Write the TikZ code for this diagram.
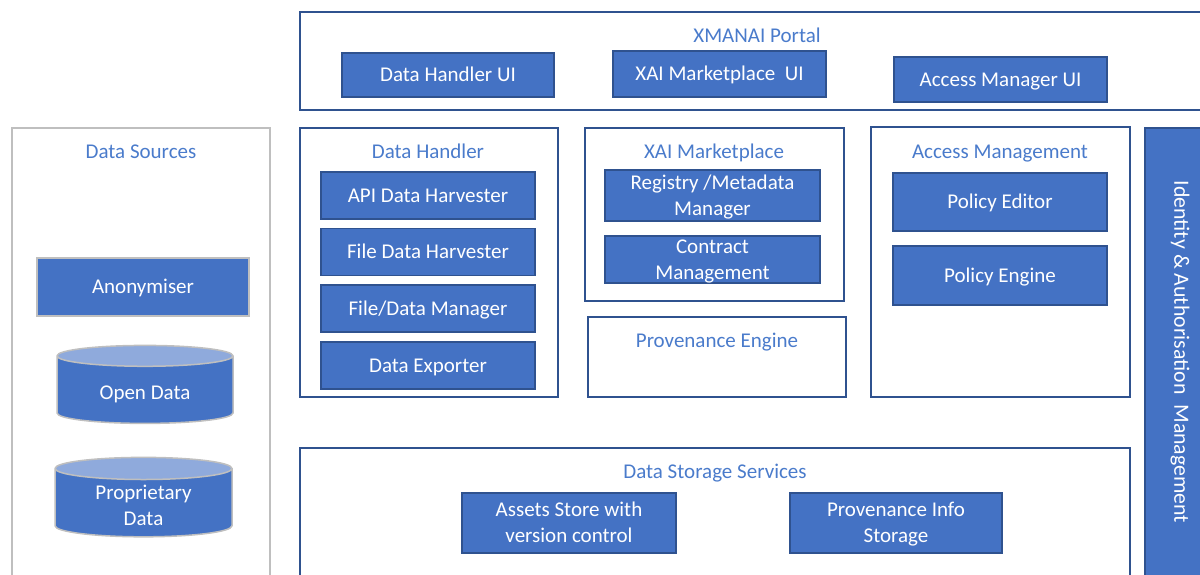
\documentclass[tikz,border=0pt]{standalone}
\usepackage{fontspec}
\setmainfont{Carlito}
\usetikzlibrary{positioning, shapes.geometric}
\definecolor{xblue}{HTML}{4472C4}
\definecolor{xdark}{HTML}{2F528F}
\definecolor{xlight}{HTML}{8FAADC}
\definecolor{xgrey}{HTML}{BFBFBF}
\definecolor{xtitle}{HTML}{4A7BCB}

\begin{document}
\begin{tikzpicture}[x=1pt, y=-1pt,
  grp/.style={draw=xdark, line width=1.6pt, inner sep=0pt},
  ttl/.style={text=xtitle, font=\fontsize{21}{26}\selectfont, inner sep=0pt, text height=13.5pt, text depth=0pt},
  b/.style={draw=xdark, line width=1.6pt, fill=xblue, text=white, align=center,
    font=\fontsize{21}{26}\selectfont, inner sep=0pt, minimum width=214, minimum height=47,
    text height=13.5pt, text depth=0pt},
  two/.style={text height=39.5pt},
  db/.style={cylinder, shape border rotate=90, aspect=0.23, draw=xgrey, line width=1.5pt,
    cylinder uses custom fill, cylinder body fill=xblue, cylinder end fill=xlight,
    text=white, align=center, font=\fontsize{21}{26}\selectfont, inner sep=0pt, text depth=0pt}]
  \clip (0,0) rectangle (1200,574);
  % portal
  \node[grp, minimum width=915, minimum height=98] (portal) at (757.5,61) {};
  \node[ttl] (portalt) at (757,36) {XMANAI Portal};
  \node[b, minimum width=212, minimum height=44] (dhui) at (448,75) {Data Handler UI};
  \node[b, minimum width=213, minimum height=46] (xmui) at (719.5,74) {XAI Marketplace\ \ UI};
  \node[b, minimum width=213, minimum height=45] (amui) at (1000.5,79.5) {Access Manager UI};
  % data sources
  \node[grp, draw=xgrey, minimum width=258, minimum height=472] (src) at (141,364) {};
  \node[ttl] (srct) at (141,152) {Data Sources};
  \node[b, draw=xgrey, minimum width=212, minimum height=58] (anon) at (143,287) {Anonymiser};
  \node[db, minimum width=176, minimum height=78, text height=19.5pt] (open) at (145,390) {Open Data};
  \node[db, minimum width=177, minimum height=78, text height=45.5pt] (prop) at (143.5,503) {Proprietary\\Data};
  % data handler
  \node[grp, minimum width=258, minimum height=269] (dh) at (429,262.5) {};
  \node[ttl] (dht) at (428,152) {Data Handler};
  \node[b] (api) at (428,195.5) {API Data Harvester};
  \node[b, below=8pt of api] (fdh) {File Data Harvester};
  \node[b, below=8pt of fdh] (fdm) {File/Data Manager};
  \node[b, below=8pt of fdm] (dex) {Data Exporter};
  % marketplace
  \node[grp, minimum width=259, minimum height=173] (xm) at (714.5,214.5) {};
  \node[ttl] (xmt) at (714,152) {XAI Marketplace};
  \node[b, two, minimum width=215, minimum height=51] (reg) at (712.5,195.5) {Registry /Metadata\\Manager};
  \node[b, two, minimum width=215, minimum height=47] (con) at (712.5,259.5) {Contract\\Management};
  \node[grp, minimum width=258, minimum height=80] (prov) at (717,357) {};
  \node[ttl] (provt) at (717,341) {Provenance Engine};
  % access management
  \node[grp, minimum width=259, minimum height=270] (am) at (1000.5,262) {};
  \node[ttl] (amt) at (1000,152) {Access Management};
  \node[b, minimum height=58] (ped) at (1000,202) {Policy Editor};
  \node[b, minimum height=59] (pen) at (1000,275.5) {Policy Engine};
  % identity
  \node[b, minimum width=70, minimum height=472] (iam) at (1180,364) {};
  \node[text=white, rotate=-90, font=\fontsize{21.8}{26}\selectfont, inner sep=0pt] (iamt) at (1180,352)
    {Identity \& Authorisation\ \ Management};
  % storage
  \node[grp, minimum width=830, minimum height=152] (dss) at (715,524) {};
  \node[ttl] (dsst) at (715,472) {Data Storage Services};
  \node[b, two, minimum height=60] (ast) at (569,523) {Assets Store with\\version control};
  \node[b, two, minimum width=212, minimum height=60] (pis) at (896,523) {Provenance Info\\Storage};
\end{tikzpicture}
\end{document}
